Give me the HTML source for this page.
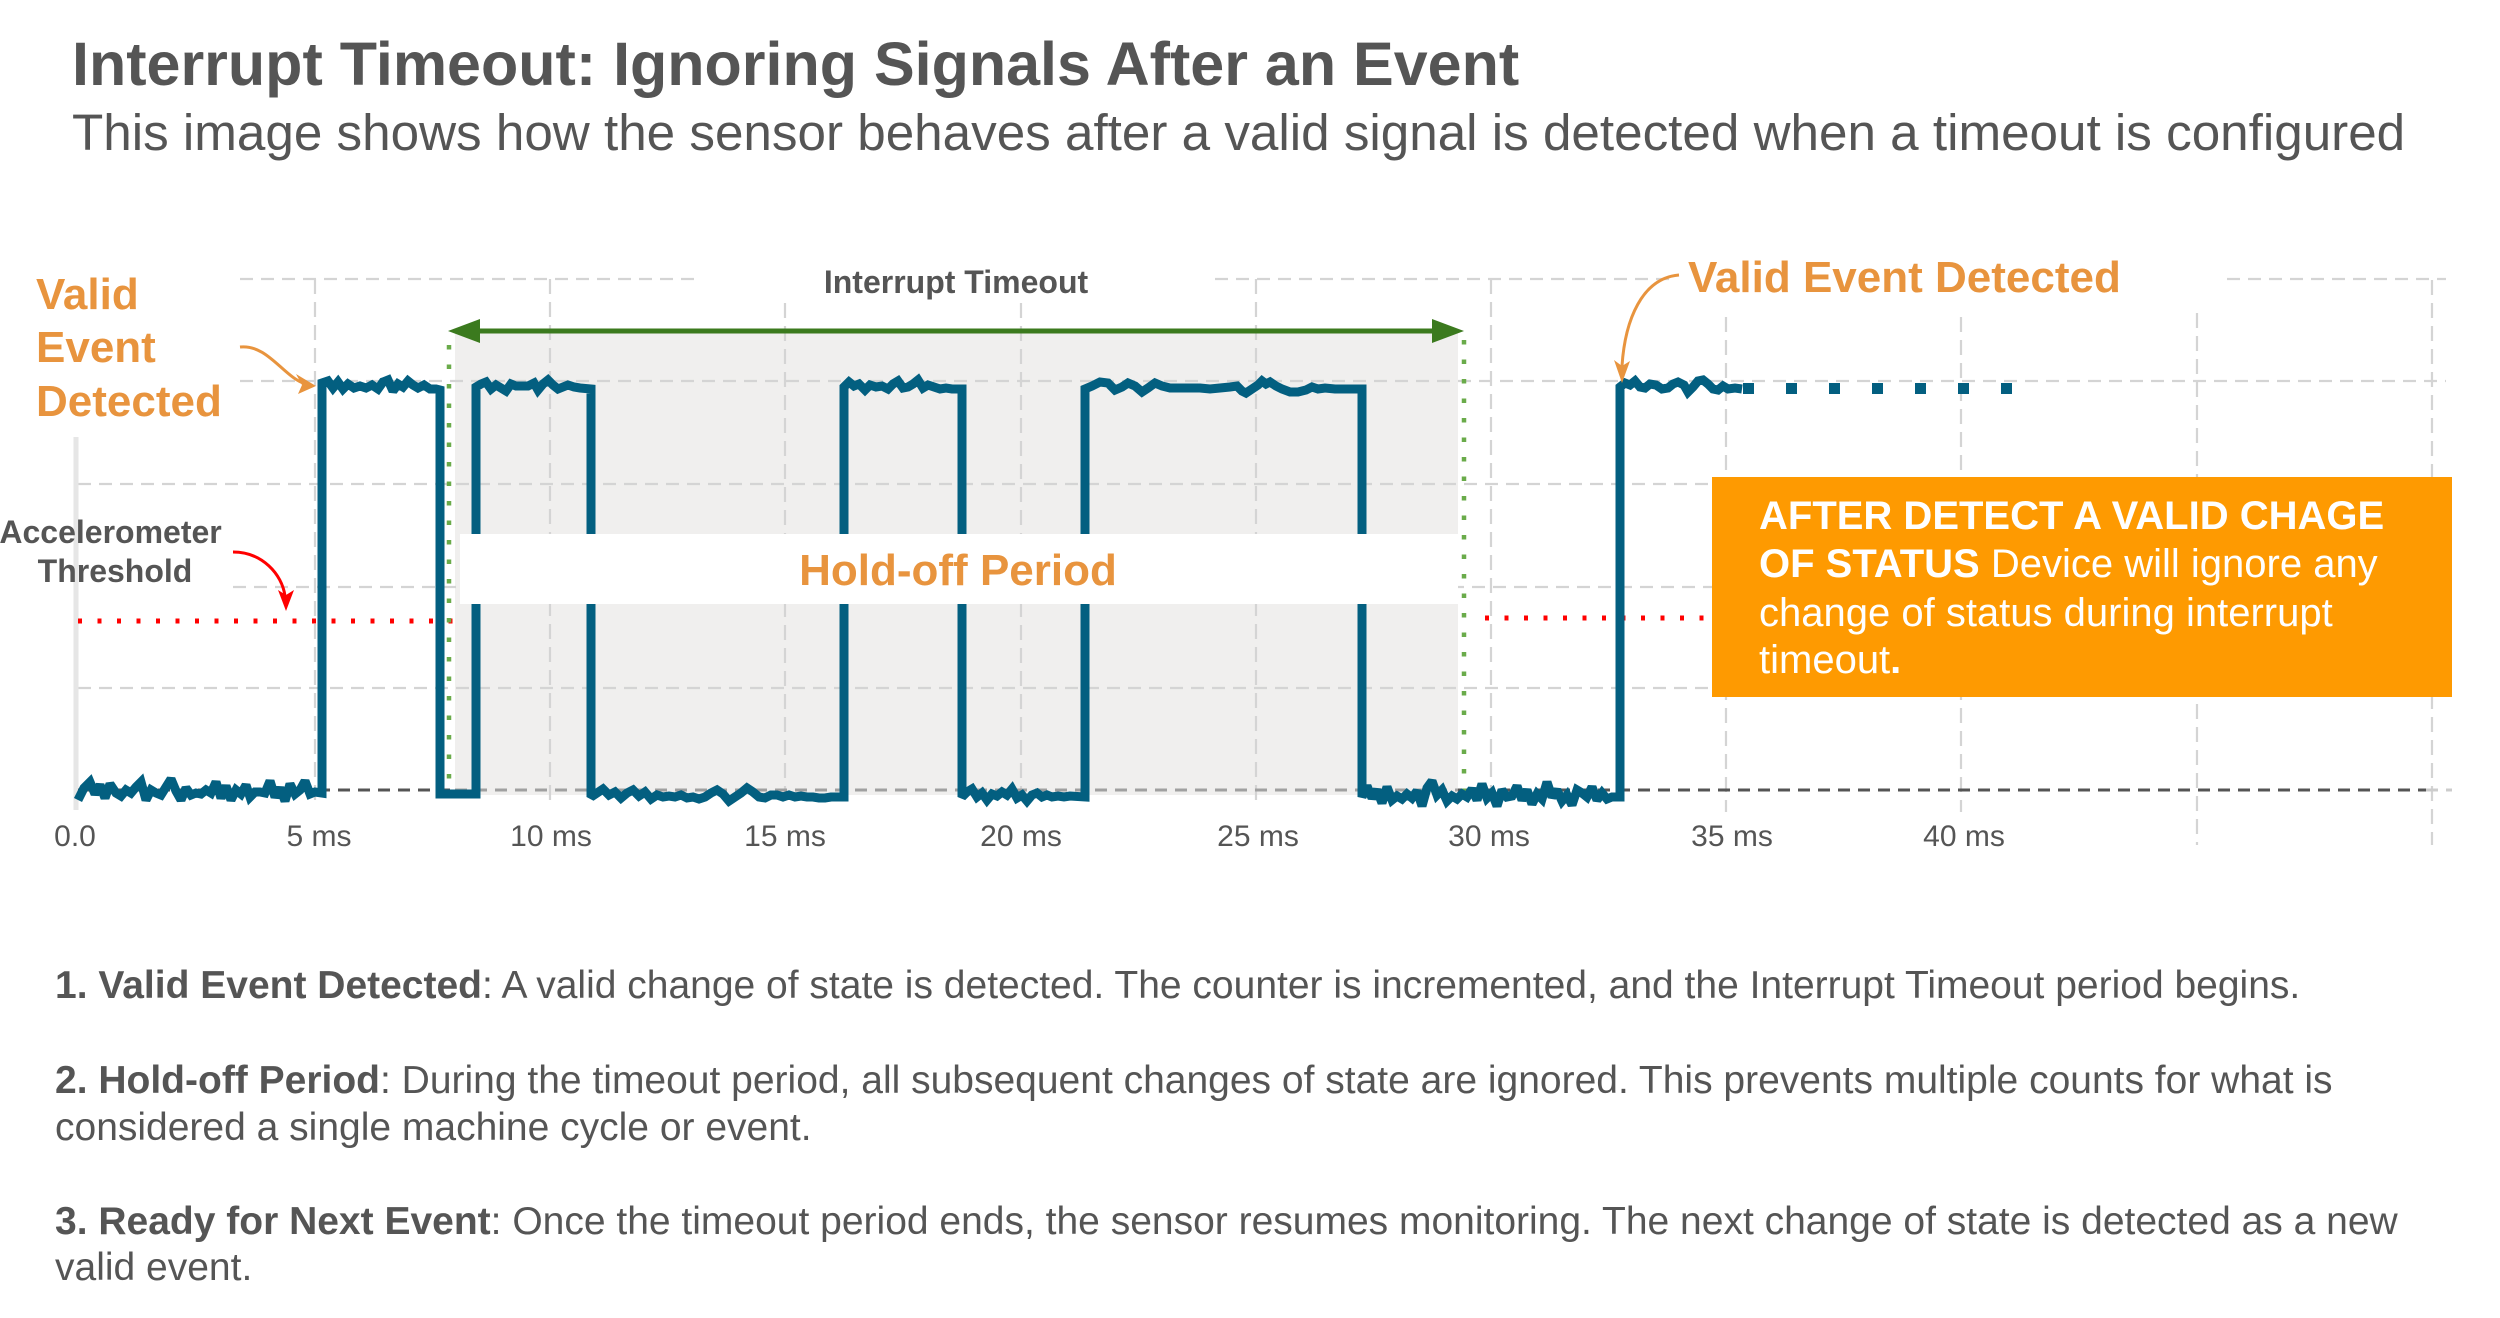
<!DOCTYPE html>
<html>
<head>
<meta charset="utf-8">
<style>
  html, body { margin:0; padding:0; background:#fff; }
  body { width:2500px; height:1318px; overflow:hidden; }
  svg { display:block; font-family:"Liberation Sans", Arial, Helvetica, sans-serif; }
</style>
</head>
<body>
<svg width="2500" height="1318" viewBox="0 0 2500 1318" xmlns="http://www.w3.org/2000/svg">
  <rect width="2500" height="1318" fill="#ffffff"/>

  <!-- Title -->
  <text x="72" y="85" font-size="61" font-weight="bold" fill="#555555">Interrupt Timeout: Ignoring Signals After an Event</text>
  <text x="72" y="150" font-size="51.2" fill="#555555">This image shows how the sensor behaves after a valid signal is detected when a timeout is configured</text>

  <!-- Shaded hold-off region -->
  <rect x="455" y="333" width="1003" height="462" fill="#f0efee"/>

  <!-- Horizontal gridlines -->
  <g stroke="#d4d4d4" stroke-width="2.2" stroke-dasharray="13 8" fill="none">
    <line x1="240" y1="279" x2="697" y2="279"/>
    <line x1="1215" y1="279" x2="1673" y2="279"/>
    <line x1="2227" y1="279" x2="2446" y2="279"/>
    <line x1="240" y1="381" x2="2446" y2="381"/>
    <line x1="78" y1="484" x2="2446" y2="484"/>
    <line x1="233" y1="587" x2="2446" y2="587"/>
    <line x1="78" y1="688" x2="2446" y2="688"/>
  </g>
  <!-- Vertical gridlines -->
  <g stroke="#d4d4d4" stroke-width="2.2" stroke-dasharray="15 8" fill="none">
    <line x1="315" y1="279" x2="315" y2="808"/>
    <line x1="550" y1="279" x2="550" y2="808"/>
    <line x1="785" y1="303" x2="785" y2="808"/>
    <line x1="1021" y1="303" x2="1021" y2="808"/>
    <line x1="1256" y1="279" x2="1256" y2="808"/>
    <line x1="1491" y1="279" x2="1491" y2="808"/>
    <line x1="1726" y1="317" x2="1726" y2="812"/>
    <line x1="1961" y1="317" x2="1961" y2="812"/>
    <line x1="2197" y1="313" x2="2197" y2="845"/>
    <line x1="2432" y1="280" x2="2432" y2="845"/>
  </g>

  <!-- Left axis -->
  <line x1="76" y1="437" x2="76" y2="810" stroke="#e6e6e6" stroke-width="5"/>

  <!-- Baseline dashed -->
  <g stroke-width="3" stroke-dasharray="12 8" fill="none">
    <line x1="78" y1="790" x2="455" y2="790" stroke="#555555"/>
    <line x1="455" y1="790" x2="1458" y2="790" stroke="#a0a0a0"/>
    <line x1="1458" y1="790" x2="2426" y2="790" stroke="#555555"/>
    <line x1="2426" y1="790" x2="2452" y2="790" stroke="#cccccc"/>
  </g>

  <!-- Red threshold dotted lines -->
  <g stroke="#ff0000" stroke-width="5" stroke-dasharray="4 15.5" fill="none">
    <line x1="78" y1="621" x2="454" y2="621"/>
    <line x1="1485" y1="618" x2="1706" y2="618"/>
  </g>

  <!-- Green dotted verticals -->
  <g stroke="#6aab4a" stroke-width="4.5" stroke-dasharray="4.5 15" fill="none">
    <line x1="449" y1="345" x2="449" y2="792"/>
    <line x1="1464" y1="340" x2="1464" y2="792"/>
  </g>

  <!-- Signal -->
  <polyline fill="none" stroke="#035f80" stroke-width="9" stroke-linejoin="miter" stroke-miterlimit="2"
    points="
    78,800 84,788 90,782 95,794 100,785 105,798 110,784 116,793 121,796 126,790 131,793 136,787 141,782 146,800 151,790 156,793 161,795 166,787 171,779 176,791 181,800 186,788 191,795 196,793 201,794 206,790 211,793 216,782 221,798 226,786 231,800 236,790 241,794 246,785 250,797 255,792 260,792 265,793 270,781 275,797 280,788 285,801 290,784 295,794 300,790 305,781 310,794 315,792 322,793
    322,383 328,381 333,388 338,382 343,389 348,384 354,388 360,386 366,388 372,385 378,389 383,382 388,380 393,391 398,384 403,387 408,381 413,385 418,388 424,385 430,389 436,389 440,390
    440,794 476,794
    476,387 481,384 486,382 491,389 496,385 501,388 506,391 511,384 516,386 522,386 528,386 534,383 538,390 543,384 548,380 553,385 558,389 563,387 568,385 574,387 580,388 591,389
    591,797 597,793 603,789 609,795 615,792 621,798 627,793 633,790 639,796 645,792 651,799 657,795 663,797 669,796 675,797 681,795 687,798 693,797 699,799 705,797 711,793 717,790 723,794 729,801 735,797 741,793 747,788 753,792 759,797 765,798 771,795 777,795 783,797 789,795 795,797 801,796 807,797 813,797 819,798 825,798 831,797 844,797
    844,387 849,382 854,386 859,384 865,390 870,385 876,387 882,386 888,389 893,384 898,381 903,388 908,387 913,384 918,380 923,388 928,385 934,387 940,389 946,388 952,389 962,389
    962,797 967,792 972,789 977,797 982,793 987,800 992,794 997,796 1002,792 1007,795 1012,789 1017,798 1022,795 1027,801 1032,795 1037,793 1042,797 1047,795 1052,797 1058,796 1064,797 1070,796 1085,797
    1085,389 1092,386 1100,382 1108,383 1115,390 1122,387 1128,383 1135,386 1142,392 1148,388 1155,383 1162,386 1170,388 1180,388 1190,388 1200,388 1210,389 1220,388 1230,387 1237,386 1242,391 1246,393 1252,389 1258,385 1262,381 1266,384 1270,382 1276,386 1282,389 1290,392 1298,392 1306,390 1312,387 1318,389 1325,388 1335,389 1345,389 1362,389
    1362,797 1367,786 1372,798 1377,790 1382,803 1387,787 1392,800 1397,796 1402,799 1407,794 1412,798 1417,791 1422,806 1427,788 1432,781 1437,795 1442,790 1447,801 1452,796 1457,799 1462,794 1467,797 1472,789 1477,800 1482,784 1487,798 1492,793 1497,806 1502,790 1507,797 1512,796 1517,786 1522,800 1527,790 1532,804 1537,794 1542,799 1547,782 1552,797 1557,790 1562,801 1567,795 1572,805 1577,790 1582,793 1587,797 1592,787 1597,800 1602,793 1607,799 1612,797 1620,797
    1620,387 1625,383 1630,385 1635,381 1640,387 1645,388 1650,384 1656,385 1662,389 1668,388 1673,384 1678,382 1684,385 1688,392 1693,387 1698,381 1703,380 1708,384 1713,389 1718,390 1723,386 1728,389 1735,388 1742,389"/>
  <!-- Continuation squares -->
  <g fill="#035f80">
    <rect x="1743" y="383" width="11" height="11"/>
    <rect x="1786" y="383" width="11" height="11"/>
    <rect x="1829" y="383" width="11" height="11"/>
    <rect x="1872" y="383" width="11" height="11"/>
    <rect x="1915" y="383" width="11" height="11"/>
    <rect x="1958" y="383" width="11" height="11"/>
    <rect x="2001" y="383" width="11" height="11"/>
  </g>

  <!-- Hold-off band -->
  <rect x="460" y="534" width="998" height="70" fill="#ffffff"/>
  <text x="958" y="585" font-size="44" font-weight="bold" fill="#e8943e" text-anchor="middle">Hold-off Period</text>

  <!-- Interrupt timeout arrow -->
  <line x1="476" y1="331" x2="1436" y2="331" stroke="#3b7a1e" stroke-width="5"/>
  <polygon points="448,331 480,319 480,343" fill="#3b7a1e"/>
  <polygon points="1464,331 1432,319 1432,343" fill="#3b7a1e"/>
  <text x="956" y="293" font-size="32" font-weight="bold" fill="#555555" text-anchor="middle">Interrupt Timeout</text>

  <!-- Left annotations -->
  <text font-size="44" font-weight="bold" fill="#e8943e">
    <tspan x="36" y="309">Valid</tspan>
    <tspan x="36" y="362">Event</tspan>
    <tspan x="36" y="416">Detected</tspan>
  </text>
  <path d="M240,347 C268,344 284,378 306,384" fill="none" stroke="#e8943e" stroke-width="3"/>
  <polygon points="316,386 296,374 302,385 298,394" fill="#e8943e"/>

  <text font-size="32" font-weight="bold" fill="#555555" text-anchor="middle">
    <tspan x="115" y="543">Accelerometer</tspan>
    <tspan x="115" y="582">Threshold</tspan>
  </text>
  <path d="M233,552 C262,552 282,574 285,596" fill="none" stroke="#ff0000" stroke-width="3"/>
  <polygon points="286,611 278,590 286,595 294,590" fill="#ff0000"/>

  <!-- Right annotation -->
  <text x="1688" y="292" font-size="44" font-weight="bold" fill="#e8943e">Valid Event Detected</text>
  <path d="M1679,275 C1642,278 1625,320 1622,366" fill="none" stroke="#e8943e" stroke-width="3"/>
  <polygon points="1622,383 1614,360 1622,366 1630,361" fill="#e8943e"/>

  <!-- Orange info box -->
  <rect x="1712" y="477" width="740" height="220" fill="#fe9a01"/>
  <text font-size="40" fill="#ffffff">
    <tspan x="1759" y="529" font-weight="bold">AFTER DETECT A VALID CHAGE</tspan>
    <tspan x="1759" y="577"><tspan font-weight="bold">OF STATUS</tspan> Device will ignore any</tspan>
    <tspan x="1759" y="626">change of status during interrupt</tspan>
    <tspan x="1759" y="673">timeout<tspan font-weight="bold">.</tspan></tspan>
  </text>

  <!-- Tick labels -->
  <g font-size="30" fill="#555555" text-anchor="middle">
    <text x="75" y="846">0.0</text>
    <text x="319" y="846">5 ms</text>
    <text x="551" y="846">10 ms</text>
    <text x="785" y="846">15 ms</text>
    <text x="1021" y="846">20 ms</text>
    <text x="1258" y="846">25 ms</text>
    <text x="1489" y="846">30 ms</text>
    <text x="1732" y="846">35 ms</text>
    <text x="1964" y="846">40 ms</text>
  </g>

  <!-- Bottom explanation -->
  <g font-size="39" fill="#555555">
    <text x="55" y="998"><tspan font-weight="bold">1. Valid Event Detected</tspan>: A valid change of state is detected. The counter is incremented, and the Interrupt Timeout period begins.</text>
    <text x="55" y="1093"><tspan font-weight="bold">2. Hold-off Period</tspan>: During the timeout period, all subsequent changes of state are ignored. This prevents multiple counts for what is</text>
    <text x="55" y="1140">considered a single machine cycle or event.</text>
    <text x="55" y="1234"><tspan font-weight="bold">3. Ready for Next Event</tspan>: Once the timeout period ends, the sensor resumes monitoring. The next change of state is detected as a new</text>
    <text x="55" y="1280">valid event.</text>
  </g>
</svg>
</body>
</html>
